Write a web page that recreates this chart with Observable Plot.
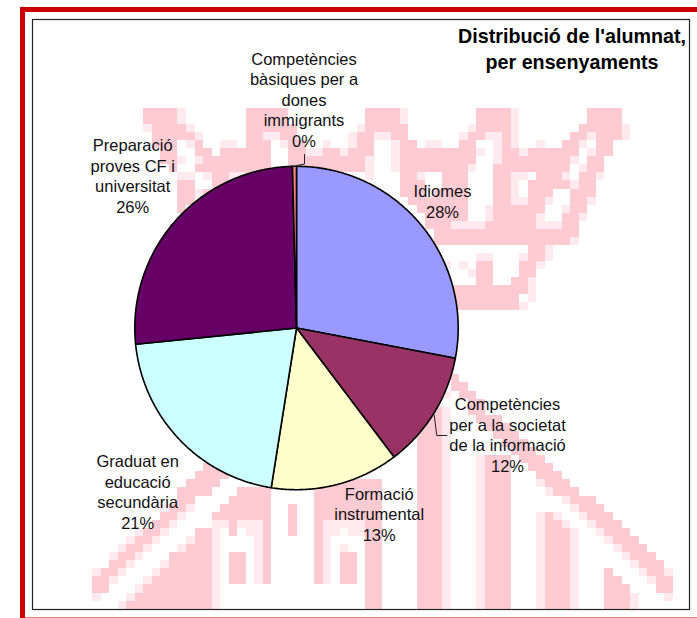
<!DOCTYPE html>
<html>
<head>
<meta charset="utf-8">
<script src="https://cdn.jsdelivr.net/npm/d3@7"></script>
<script src="https://cdn.jsdelivr.net/npm/@observablehq/plot@0.6"></script>
<style>
html,body{margin:0;padding:0;background:#fff;overflow:hidden}
svg{display:block}
</style>
</head>
<body>
<div id="chart"></div>
<script>
// Slices, clockwise from 12 o'clock
const categories = ["Idiomes","Competències per a la societat de la informació","Formació instrumental","Graduat en educació secundària","Preparació proves CF i universitat","Competències bàsiques per a dones immigrants"];
const shares = [28.0, 11.7, 12.8, 20.9, 26.2, 0.4];
const sliceColors = ["#9999FF","#993366","#FFFFCC","#CCFFFF","#660066","#FF8080"];

// Data labels
const labelTexts = ["Idiomes\n28%","Competències\nper a la societat\nde la informació\n12%","Formació\ninstrumental\n13%","Graduat en\neducació\nsecundària\n21%","Preparació\nproves CF i\nuniversitat\n26%","Competències\nbàsiques per a\ndones\nimmigrants\n0%"];
const labelX = [442, 507, 378.7, 137.2, 132.2, 303.5];
const labelY = [217, 471, 540, 528, 212, 146];
const titleText = "Distribució de l'alumnat,\nper ensenyaments";

// Layout
const cx = 296, cy = 327.5, radius = 161.7;
const leaderA = [[304,154],[304,163.5],[294.7,165.3]];
const leaderB = [[446.3,435],[436.3,435],[433.7,414.7]];

// Watermark crest, blocks on a coarse grid: [firstRow, lastRow, firstCol, lastCol]
const crestFull = [
[0,1,0,3],[0,1,12,16],[0,1,26,29],[0,1,39,42],[0,1,52,55],
[2,2,1,4],[2,2,12,17],[2,2,26,30],[2,2,39,42],[2,2,51,55],
[3,3,1,5],[3,3,12,13],[3,3,16,17],[3,3,25,26],[3,3,29,30],[3,3,38,39],[3,3,42,42],[3,3,50,51],[3,3,53,55],
[4,4,1,3],[4,4,6,6],[4,4,12,14],[4,4,17,18],[4,4,25,26],[4,4,30,31],[4,4,37,38],[4,4,42,42],[4,4,49,50],[4,4,53,54],
[5,5,2,3],[5,5,6,7],[5,5,9,14],[5,5,17,18],[5,5,21,22],[5,5,24,26],[5,5,30,38],[5,5,42,43],[5,5,45,50],[5,5,53,54],
[6,6,2,3],[6,6,7,14],[6,6,17,25],[6,6,30,38],[6,6,42,49],[6,6,52,53],
[7,7,3,3],[7,7,6,14],[7,7,17,25],[7,7,30,37],[7,7,41,49],[7,7,52,53],
[8,8,8,9],[8,8,12,14],[8,8,30,31],[8,8,35,37],[8,8,41,42],[8,8,46,48],[8,8,51,52],
[9,9,4,5],[9,9,8,14],[9,9,30,32],[9,9,35,37],[9,9,41,42],[9,9,45,49],[9,9,51,52],
[10,10,4,5],[10,10,7,14],[10,10,30,32],[10,10,34,37],[10,10,41,42],[10,10,45,47],[10,10,50,52],
[11,11,4,5],[11,11,31,37],[11,11,41,42],[11,11,45,46],[11,11,50,51],
[12,12,4,4],[12,12,32,37],[12,12,41,46],[12,12,50,51],
[13,13,33,37],[13,13,41,45],[13,13,49,50],
[14,14,33,35],[14,14,40,45],[14,14,49,50],
[15,15,34,50],[16,16,34,49],
[17,18,45,46],[19,20,39,40],[19,20,44,45],[21,21,39,40],[21,21,43,44],
[22,22,36,44],[23,24,36,43],
// lower left diagonal and towers
[44,44,7,8],[45,45,6,9],[46,46,5,8],[47,47,4,7],[47,47,11,14],[48,48,4,5],[48,48,10,14],
[49,49,3,4],[49,49,9,14],[50,50,2,3],[50,50,8,14],[49,52,17,17],
[51,51,1,2],[51,51,10,10],[51,58,14,14],
[52,52,0,1],[52,52,6,7],[52,52,10,10],
[53,53,-1,0],[53,53,6,7],[54,54,-2,-1],[54,54,5,7],
[55,55,-3,-2],[55,55,3,7],[56,56,-4,-3],[56,56,3,7],[57,57,-5,-4],[57,57,2,7],
[58,58,-6,-5],[58,58,1,7],[59,59,-6,-5],[59,59,0,7],[60,60,-1,7],[61,61,-2,7],
[55,58,10,11],
// lower middle
[46,50,20,27],[51,58,20,20],[55,58,23,24],[51,61,26,27],
// lower right towers and diagonal
[37,37,34,34],[38,61,32,34],[43,61,40,42],
[50,50,47,47],[51,51,47,48],[52,61,47,49],[57,57,54,54],[58,58,54,55],[59,61,54,56],
[33,33,36,36],[34,34,36,37],[35,35,37,38],[36,37,38,39],[38,38,39,41],[39,39,40,42],[40,40,41,43],[41,41,42,44],
[42,42,43,45],[43,43,44,46],[44,44,45,47],[45,45,46,48],[46,46,47,49],[47,47,48,50],[48,48,50,52],[49,49,51,53],
[50,50,52,54],[51,51,53,55],[52,52,54,56],[53,53,55,57],[54,54,56,58],[55,55,57,59],[56,56,58,60],[57,57,59,60],[58,59,60,61]
];
const crestPale = [
[0,1,4,4],[0,1,30,30],[0,1,43,43],
[2,2,0,0],[2,2,5,5],[2,2,25,25],[2,2,38,38],[2,2,43,43],[2,2,56,56],
[3,3,6,6],[3,3,14,15],[3,3,24,24],[3,3,27,28],[3,3,37,37],[3,3,40,41],[3,3,43,43],[3,3,52,52],[3,3,56,56],
[4,4,5,5],[4,4,9,10],[4,4,16,16],[4,4,21,21],[4,4,24,24],[4,4,29,29],[4,4,33,34],[4,4,41,41],[4,4,43,43],[4,4,46,46],[4,4,51,51],
[5,5,19,20],[5,5,23,23],[5,5,29,29],[5,5,39,39],[5,5,41,41],[5,5,44,44],[5,5,52,52],
[6,6,4,4],[6,6,6,6],[6,6,26,26],[6,6,29,29],[6,6,41,41],[6,6,50,50],
[7,7,26,26],[7,7,29,29],[7,7,38,38],[7,7,51,51],
[8,8,4,5],[8,8,7,7],[8,8,10,11],[8,8,26,26],[8,8,32,32],[8,8,43,44],[8,8,49,49],[8,8,53,53],
[9,9,43,43],[9,9,50,50],[10,10,6,6],[10,10,43,43],
[11,11,43,44],[11,11,47,47],[11,11,52,52],
[12,12,40,40],[12,12,49,49],[13,13,40,40],[13,13,46,46],[13,13,51,51],
[14,14,36,39],[14,14,46,48],[16,16,50,50],
[17,17,47,47],[18,18,39,40],[18,18,44,44],[18,18,47,47],[19,19,35,35],[19,19,37,37],[19,19,46,46],[20,20,38,38],
[21,21,45,45],[22,23,45,45],[24,24,44,44],
[49,49,2,2],[49,49,5,5],[50,50,4,4],[51,51,3,3],[51,51,8,9],[51,51,11,13],[51,51,21,25],
[52,52,-1,-1],[52,52,2,2],[52,52,8,8],[52,52,12,13],[52,52,21,22],[52,52,24,25],
[53,53,-2,-2],[53,53,1,1],[53,53,5,5],[53,61,8,8],[53,58,13,13],[53,58,21,21],
[54,54,-3,-3],[54,54,0,0],[54,54,4,4],[54,54,23,23],
[55,55,-4,-4],[55,55,-1,-1],[56,56,-2,-2],[56,56,2,2],[57,57,-6,-6],[57,57,-3,-3],[57,57,1,1],
[58,58,-4,-4],[58,58,0,0],[59,59,-1,-1],[60,60,-6,-6],[60,60,-2,-2],[61,61,-3,-3],
[38,61,35,35],[43,61,39,39],[50,61,46,46],[50,50,48,48],[51,51,49,49],[52,61,50,50],[60,61,57,57],
[35,35,35,35],[37,37,35,35],[46,46,46,46],[47,47,47,47],[48,48,49,49],[49,49,50,50],[50,50,51,51],[51,51,52,52],
[52,52,53,53],[53,53,54,54],[54,54,55,55],[55,55,56,56],[56,56,57,57],[57,57,58,58],[57,57,61,61],[58,58,59,59],[60,60,61,61]
];
const crestColors = {full: "#FECBD3", pale: "#FFEBEF"};
const colX = c => 143.3 + 8.54 * c;
const rowY = r => 107.7 + 8.08 * r;
const crestRect = b => ({x1: colX(b[2]), x2: colX(b[3] + 1), y1: rowY(b[0]), y2: Math.min(rowY(b[1] + 1), 609)});

// Slice outlines from the values
const arcs = d3.pie().sort(null).value(d => d)(shares);
const slices = arcs.map((a, i) => {
  const steps = Math.max(2, Math.ceil((a.endAngle - a.startAngle) / 0.01));
  const pts = d3.range(steps + 1).map(k => {
    const t = a.startAngle + (a.endAngle - a.startAngle) * k / steps;
    return {x: cx + radius * Math.sin(t), y: cy - radius * Math.cos(t)};
  });
  return {name: categories[i], color: sliceColors[i], pts: [{x: cx, y: cy}, ...pts]};
});

const labels = labelTexts.map((t, i) => ({t, x: labelX[i], y: labelY[i]}));
const font = '"Liberation Sans", Arial, sans-serif';

const chart = Plot.plot({
  width: 697, height: 618,
  margin: 0,
  style: {fontFamily: font, background: "#fff"},
  x: {domain: [0, 697], range: [0, 697], axis: null},
  y: {domain: [0, 618], range: [0, 618], axis: null},
  marks: [
    Plot.rect(crestPale.map(crestRect), {x1: "x1", x2: "x2", y1: "y1", y2: "y2", fill: crestColors.pale, shapeRendering: "crispEdges"}),
    Plot.rect(crestFull.map(crestRect), {x1: "x1", x2: "x2", y1: "y1", y2: "y2", fill: crestColors.full, shapeRendering: "crispEdges"}),
    Plot.rect([{x1: 32.5, x2: 689.5, y1: 19.5, y2: 609.5}], {x1: "x1", x2: "x2", y1: "y1", y2: "y2", fill: "none", stroke: "#222", strokeWidth: 1.2}),
    Plot.rect([{x1: 22.5, x2: 740, y1: 9.5, y2: 620}], {x1: "x1", x2: "x2", y1: "y1", y2: "y2", fill: "none", stroke: "#CC0000", strokeWidth: 5}),
    ...slices.map(s => Plot.line(s.pts, {x: "x", y: "y", curve: "linear-closed", fill: s.color, stroke: "#000", strokeWidth: 1.6, strokeLinejoin: "round"})),
    Plot.line(leaderA, {x: d => d[0], y: d => d[1], stroke: "#222", strokeWidth: 1}),
    Plot.line(leaderB, {x: d => d[0], y: d => d[1], stroke: "#222", strokeWidth: 1}),
    Plot.text(labels, {x: "x", y: "y", text: "t", lineAnchor: "bottom", textAnchor: "middle", lineHeight: 1.24, fontSize: 16.5, fill: "#111"}),
    Plot.text([titleText], {x: () => 571.5, y: () => 68, text: d => d, lineAnchor: "bottom", textAnchor: "middle", lineHeight: 1.27, fontSize: 19.7, fontWeight: "bold", fill: "#000"})
  ]
});
document.getElementById("chart").append(chart);
</script>
</body>
</html>
